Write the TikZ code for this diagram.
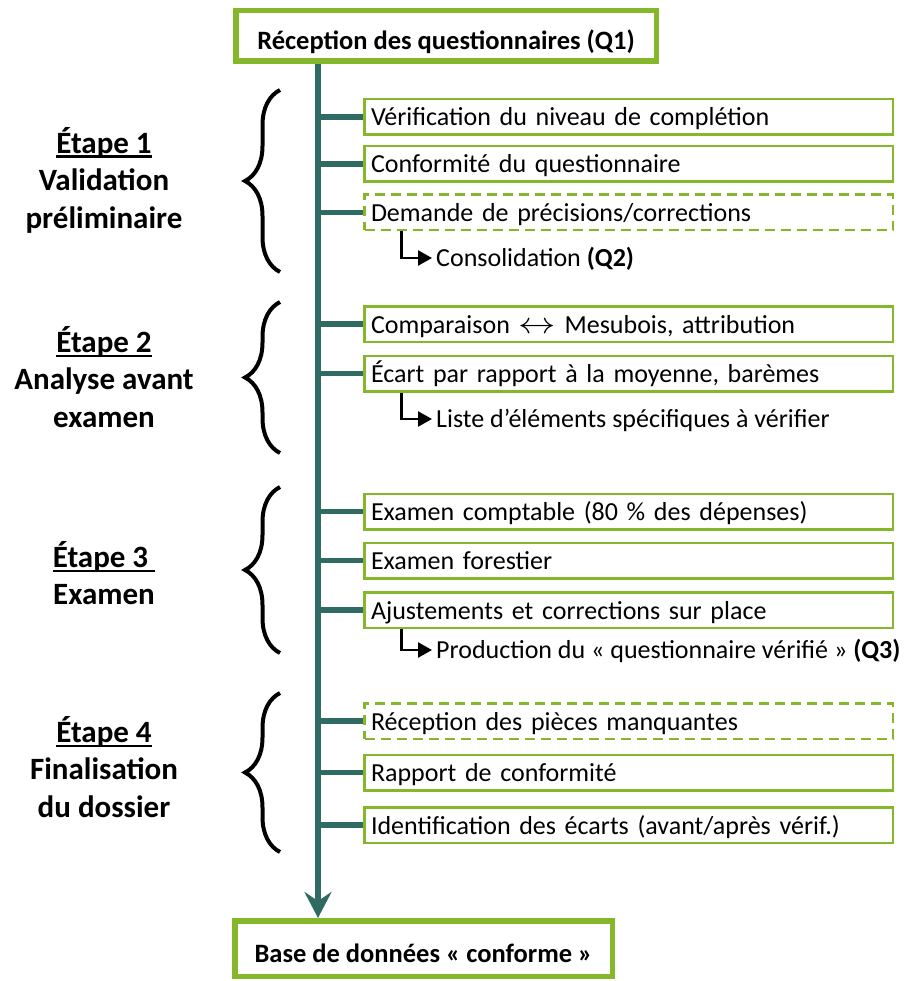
\documentclass[tikz,border=0pt]{standalone}
\usepackage{fontspec}
\setmainfont{Carlito}
\usetikzlibrary{arrows.meta,decorations.pathreplacing}
\definecolor{vert}{HTML}{84B82A}
\definecolor{sarcelle}{HTML}{2F6B62}
\newcommand{\etape}[1]{\setbox0\hbox{#1}\rlap{\rule[-5pt]{\wd0}{2.6pt}}\box0}

\begin{document}
\begin{tikzpicture}[x=1pt,y=-1pt,
    titre/.style={draw=vert,line width=5.5pt,inner sep=0pt,text height=30pt,text depth=3pt,
      font=\fontsize{26.5}{32}\selectfont\bfseries},
    tache/.style={draw=vert,line width=2.5pt,anchor=west,minimum height=35.5pt,text width=515.5pt,
      text height=22pt,text depth=4pt,inner xsep=6.5pt,inner ysep=0pt,align=left,
      font=\fontsize{26}{32}\selectfont},
    tachepointillee/.style={tache,dash pattern=on 10pt off 6pt},
    sortie/.style={anchor=west,inner sep=0pt,text height=22pt,text depth=6pt,font=\fontsize{26}{32}\selectfont},
    tronc/.style={draw=sarcelle,line width=6pt,-{Stealth[length=26pt,width=27pt,inset=9pt]}},
    branche/.style={draw=sarcelle,line width=5.5pt},
    renvoi/.style={line width=2.5pt,shorten >=4pt,-{Triangle[length=14pt,width=15pt]}},
    accolade/.style={decorate,decoration={brace,amplitude=35pt},line width=4pt},
    etiquette/.style={align=center,inner sep=0pt,font=\fontsize{31}{37.5}\selectfont\bfseries}]
  \useasboundingbox (0,0) rectangle (915,981);
  \coordinate (tk) at (318,0);

  \node[titre,minimum width=420.5pt,minimum height=50.5pt] (q1) at (446,36) {Réception des questionnaires (Q1)};
  \node[titre,minimum width=377.5pt,minimum height=55.5pt] (bd) at (423.5,948.5) {Base de données « conforme »};

  \node[tache] (t1) at (363.25,117) {Vérification du niveau de complétion};
  \node[tache] (t2) at (363.25,164) {Conformité du questionnaire};
  \node[tachepointillee] (t3) at (363.25,212.5) {Demande de précisions/corrections};
  \node[sortie] (q2) at (436,258) {Consolidation \textbf{(Q2)}};
  \node[tache] (t4) at (363.25,324) {Comparaison \scalebox{1.5}[1.2]{$\leftrightarrow$} Mesubois, attribution};
  \node[tache] (t5) at (363.25,373.5) {Écart par rapport à la moyenne, barèmes};
  \node[sortie] (liste) at (436,419) {Liste d’éléments spécifiques à vérifier};
  \node[tache] (t6) at (363.25,511.5) {Examen comptable (80~\% des dépenses)};
  \node[tache] (t7) at (363.25,560.5) {Examen forestier};
  \node[tache] (t8) at (363.25,610) {Ajustements et corrections sur place};
  \node[sortie] (q3) at (436,650) {Production du « questionnaire vérifié » \textbf{(Q3)}};
  \node[tachepointillee] (t9) at (363.25,721) {Réception des pièces manquantes};
  \node[tache] (t10) at (363.25,772.5) {Rapport de conformité};
  \node[tache] (t11) at (363.25,825) {Identification des écarts (avant/après vérif.)};

  % 
  \draw[tronc] (q1.south -| tk) -- (bd.north -| tk);
  \foreach \i in {1,...,11}
    \draw[branche] (t\i.west -| tk) -- (t\i.west);
  \draw[renvoi] ([xshift=38pt]t3.south west) |- (q2.west);
  \draw[renvoi] ([xshift=38pt]t5.south west) |- (liste.west);
  \draw[renvoi] ([xshift=38pt]t8.south west) |- (q3.west);

  \node[etiquette] (e1) at (104,180) {\etape{Étape 1}\\Validation\\préliminaire};
  \node[etiquette] (e2) at (104,377) {\etape{Étape 2}\\Analyse avant\\examen};
  \node[etiquette] (e3) at (104,573) {\etape{Étape 3\ }\\Examen};
  \node[etiquette] (e4) at (104,767) {\etape{Étape 4}\\Finalisation\\du dossier};
  \draw[accolade] (280,272) -- (280,90);
  \draw[accolade] (280,453) -- (280,302);
  \draw[accolade] (280,653) -- (280,487);
  \draw[accolade] (280,852) -- (280,693);
\end{tikzpicture}
\end{document}
